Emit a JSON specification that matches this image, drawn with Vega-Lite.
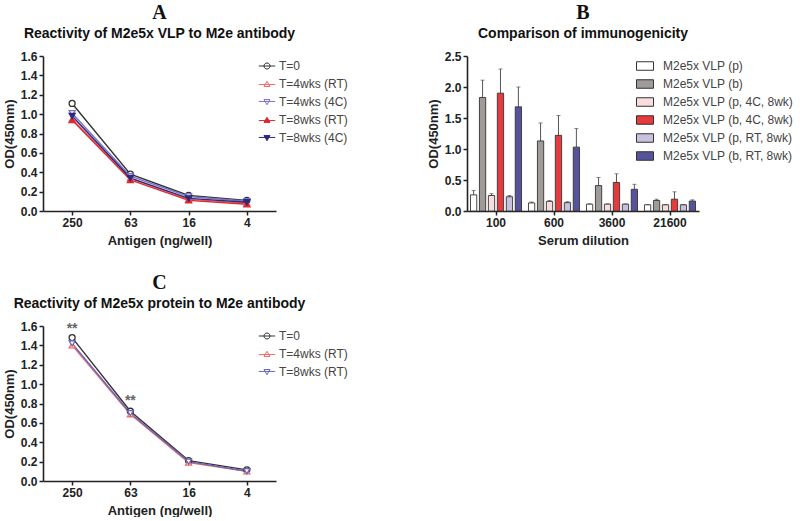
{
  "$schema": "https://vega.github.io/schema/vega-lite/v6.json",
  "background": "white",
  "padding": {"left": 3, "top": 3, "right": 0, "bottom": 0},
  "config": {
    "view": {"stroke": null},
    "font": "Liberation Sans",
    "axis": {"grid": false, "labelFont": "Liberation Sans", "labelFontWeight": "bold", "labelFontSize": 12, "labelColor": "#222", "titleFont": "Liberation Sans", "titleFontWeight": "bold", "titleFontSize": 13, "titleColor": "#222", "domainColor": "#222", "domainWidth": 1.6, "tickColor": "#222", "tickWidth": 1.5, "tickSize": 4, "labelPadding": 2},
    "axisY": {"titlePadding": 4},
    "axisX": {"titlePadding": 6, "labelAngle": 0},
    "title": {"font": "Liberation Serif", "fontSize": 20, "fontWeight": "bold", "color": "#111", "anchor": "middle", "subtitleFont": "Liberation Sans", "subtitleFontSize": 14, "subtitleFontWeight": "bold", "subtitleColor": "#111", "subtitlePadding": 4, "offset": 9},
    "legend": {"labelFont": "Liberation Sans", "labelFontSize": 12, "labelColor": "#444", "padding": 0, "rowPadding": 6}
  },
  "datasets": {
    "a": [
      {"s": "T=0", "x": "250", "y": 1.11}, {"s": "T=0", "x": "63", "y": 0.38}, {"s": "T=0", "x": "16", "y": 0.16}, {"s": "T=0", "x": "4", "y": 0.11},
      {"s": "T=4wks (RT)", "x": "250", "y": 0.95}, {"s": "T=4wks (RT)", "x": "63", "y": 0.34}, {"s": "T=4wks (RT)", "x": "16", "y": 0.12}, {"s": "T=4wks (RT)", "x": "4", "y": 0.08},
      {"s": "T=4wks (4C)", "x": "250", "y": 1.01}, {"s": "T=4wks (4C)", "x": "63", "y": 0.36}, {"s": "T=4wks (4C)", "x": "16", "y": 0.15}, {"s": "T=4wks (4C)", "x": "4", "y": 0.10},
      {"s": "T=8wks (RT)", "x": "250", "y": 0.94}, {"s": "T=8wks (RT)", "x": "63", "y": 0.32}, {"s": "T=8wks (RT)", "x": "16", "y": 0.11}, {"s": "T=8wks (RT)", "x": "4", "y": 0.07},
      {"s": "T=8wks (4C)", "x": "250", "y": 0.98}, {"s": "T=8wks (4C)", "x": "63", "y": 0.34}, {"s": "T=8wks (4C)", "x": "16", "y": 0.13}, {"s": "T=8wks (4C)", "x": "4", "y": 0.09}
    ],
    "c": [
      {"s": "T=0", "x": "250", "y": 1.48}, {"s": "T=0", "x": "63", "y": 0.72}, {"s": "T=0", "x": "16", "y": 0.21}, {"s": "T=0", "x": "4", "y": 0.115},
      {"s": "T=4wks (RT)", "x": "250", "y": 1.40}, {"s": "T=4wks (RT)", "x": "63", "y": 0.69}, {"s": "T=4wks (RT)", "x": "16", "y": 0.19}, {"s": "T=4wks (RT)", "x": "4", "y": 0.10},
      {"s": "T=8wks (RT)", "x": "250", "y": 1.42}, {"s": "T=8wks (RT)", "x": "63", "y": 0.70}, {"s": "T=8wks (RT)", "x": "16", "y": 0.20}, {"s": "T=8wks (RT)", "x": "4", "y": 0.10}
    ],
    "stars": [
      {"x": "250", "y": 1.57, "t": "**"},
      {"x": "63", "y": 0.83, "t": "**"}
    ],
    "b": [
      {"d": "100", "g": "M2e5x VLP (p)", "v": 0.26, "e": 0.33},
      {"d": "100", "g": "M2e5x VLP (b)", "v": 1.83, "e": 2.11},
      {"d": "100", "g": "M2e5x VLP (p, 4C, 8wk)", "v": 0.25, "e": 0.28},
      {"d": "100", "g": "M2e5x VLP (b, 4C, 8wk)", "v": 1.90, "e": 2.29},
      {"d": "100", "g": "M2e5x VLP (p, RT, 8wk)", "v": 0.23, "e": 0.25},
      {"d": "100", "g": "M2e5x VLP (b, RT, 8wk)", "v": 1.68, "e": 2.00},
      {"d": "600", "g": "M2e5x VLP (p)", "v": 0.13, "e": 0.145},
      {"d": "600", "g": "M2e5x VLP (b)", "v": 1.13, "e": 1.42},
      {"d": "600", "g": "M2e5x VLP (p, 4C, 8wk)", "v": 0.155, "e": 0.17},
      {"d": "600", "g": "M2e5x VLP (b, 4C, 8wk)", "v": 1.22, "e": 1.54},
      {"d": "600", "g": "M2e5x VLP (p, RT, 8wk)", "v": 0.135, "e": 0.15},
      {"d": "600", "g": "M2e5x VLP (b, RT, 8wk)", "v": 1.03, "e": 1.33},
      {"d": "3600", "g": "M2e5x VLP (p)", "v": 0.11, "e": 0.115},
      {"d": "3600", "g": "M2e5x VLP (b)", "v": 0.41, "e": 0.54},
      {"d": "3600", "g": "M2e5x VLP (p, 4C, 8wk)", "v": 0.11, "e": 0.115},
      {"d": "3600", "g": "M2e5x VLP (b, 4C, 8wk)", "v": 0.46, "e": 0.60},
      {"d": "3600", "g": "M2e5x VLP (p, RT, 8wk)", "v": 0.11, "e": 0.115},
      {"d": "3600", "g": "M2e5x VLP (b, RT, 8wk)", "v": 0.35, "e": 0.43},
      {"d": "21600", "g": "M2e5x VLP (p)", "v": 0.10, "e": 0.105},
      {"d": "21600", "g": "M2e5x VLP (b)", "v": 0.17, "e": 0.19},
      {"d": "21600", "g": "M2e5x VLP (p, 4C, 8wk)", "v": 0.10, "e": 0.105},
      {"d": "21600", "g": "M2e5x VLP (b, 4C, 8wk)", "v": 0.19, "e": 0.31},
      {"d": "21600", "g": "M2e5x VLP (p, RT, 8wk)", "v": 0.10, "e": 0.105},
      {"d": "21600", "g": "M2e5x VLP (b, RT, 8wk)", "v": 0.16, "e": 0.18}
    ]
  },
  "vconcat": [
    {
      "hconcat": [
        {
          "title": {"text": "A", "subtitle": "Reactivity of M2e5x VLP to M2e antibody"},
          "width": 233, "height": 155,
          "data": {"name": "a"},
          "encoding": {
            "x": {"field": "x", "type": "ordinal", "sort": ["250", "63", "16", "4"], "scale": {"type": "point", "padding": 0.5}, "axis": {"title": "Antigen  (ng/well)"}},
            "y": {"field": "y", "type": "quantitative", "scale": {"domain": [0, 1.6]}, "axis": {"values": [0, 0.2, 0.4, 0.6, 0.8, 1.0, 1.2, 1.4, 1.6], "format": ".1f", "title": "OD(450nm)"}}
          },
          "layer": [
            {"mark": {"type": "line", "strokeWidth": 1.4},
             "encoding": {"stroke": {"field": "s", "type": "nominal", "scale": {"domain": ["T=0", "T=4wks (RT)", "T=4wks (4C)", "T=8wks (RT)", "T=8wks (4C)"], "range": ["#333333", "#f06a6a", "#7a74c2", "#e0282d", "#2e2a80"]}, "legend": null}}},
            {"mark": {"type": "point", "filled": true, "size": 36, "strokeWidth": 1.3, "opacity": 1},
             "encoding": {
               "stroke": {"field": "s", "type": "nominal", "scale": {"domain": ["T=0", "T=4wks (RT)", "T=4wks (4C)", "T=8wks (RT)", "T=8wks (4C)"], "range": ["#333333", "#f06a6a", "#7a74c2", "#e0282d", "#2e2a80"]}, "legend": null},
               "fill": {"field": "s", "type": "nominal", "scale": {"domain": ["T=0", "T=4wks (RT)", "T=4wks (4C)", "T=8wks (RT)", "T=8wks (4C)"], "range": ["#ffffff", "#ffffff", "#ffffff", "#e0282d", "#2e2a80"]}, "legend": null},
               "shape": {"field": "s", "type": "nominal", "scale": {"domain": ["T=0", "T=4wks (RT)", "T=4wks (4C)", "T=8wks (RT)", "T=8wks (4C)"], "range": ["circle", "triangle-up", "triangle-down", "triangle-up", "triangle-down"]}, "legend": null}
             }},
            {"transform": [{"filter": "false"}],
             "mark": {"type": "point", "filled": true, "opacity": 1},
             "encoding": {
               "stroke": {"field": "s", "type": "nominal", "title": null, "scale": {"domain": ["T=0", "T=4wks (RT)", "T=4wks (4C)", "T=8wks (RT)", "T=8wks (4C)"], "range": ["#333333", "#f06a6a", "#7a74c2", "#e0282d", "#2e2a80"]}},
               "fill": {"field": "s", "type": "nominal", "title": null, "scale": {"domain": ["T=0", "T=4wks (RT)", "T=4wks (4C)", "T=8wks (RT)", "T=8wks (4C)"], "range": ["transparent", "transparent", "transparent", "#e0282d", "#2e2a80"]}},
               "shape": {"field": "s", "type": "nominal", "title": null, "scale": {"domain": ["T=0", "T=4wks (RT)", "T=4wks (4C)", "T=8wks (RT)", "T=8wks (4C)"], "range": ["M-1.5,0H1.5M-0.55,0A0.55,0.55,0,1,1,0.55,0A0.55,0.55,0,1,1,-0.55,0Z", "M-1.5,0.1H1.5M0,-0.5L0.55,0.45L-0.55,0.45Z", "M-1.5,-0.1H1.5M0,0.5L0.55,-0.45L-0.55,-0.45Z", "M-1.5,0.1H1.5M0,-0.5L0.55,0.45L-0.55,0.45Z", "M-1.5,-0.1H1.5M0,0.5L0.55,-0.45L-0.55,-0.45Z"]},
                 "legend": {"orient": "none", "legendX": 218, "legendY": 4, "symbolSize": 120, "symbolStrokeWidth": 1, "labelOffset": 6}}
             }}
          ],
          "resolve": {"scale": {"stroke": "independent", "fill": "independent", "shape": "independent"}}
        },
        {
          "title": {"text": "B", "subtitle": "Comparison of immunogenicity"},
          "width": 232, "height": 155,
          "data": {"name": "b"},
          "encoding": {
            "x": {"field": "d", "type": "ordinal", "sort": ["100", "600", "3600", "21600"], "scale": {"paddingInner": 0.12, "paddingOuter": 0.06}, "axis": {"title": "Serum dilution"}},
            "xOffset": {"field": "g", "type": "nominal", "sort": ["M2e5x VLP (p)", "M2e5x VLP (b)", "M2e5x VLP (p, 4C, 8wk)", "M2e5x VLP (b, 4C, 8wk)", "M2e5x VLP (p, RT, 8wk)", "M2e5x VLP (b, RT, 8wk)"], "scale": {"paddingInner": 0.3, "paddingOuter": 0}},
            "y": {"field": "v", "type": "quantitative", "scale": {"domain": [0, 2.5]}, "axis": {"values": [0, 0.5, 1.0, 1.5, 2.0, 2.5], "format": ".1f", "title": "OD(450nm)"}}
          },
          "layer": [
            {"mark": {"type": "rule", "color": "#555", "strokeWidth": 1},
             "encoding": {"y2": {"field": "e"}}},
            {"mark": {"type": "tick", "color": "#555", "thickness": 1, "size": 4},
             "encoding": {"y": {"field": "e", "type": "quantitative"}}},
            {"mark": {"type": "bar", "stroke": "#333", "strokeWidth": 0.9},
             "encoding": {
               "fill": {"field": "g", "type": "nominal", "title": null, "scale": {"domain": ["M2e5x VLP (p)", "M2e5x VLP (b)", "M2e5x VLP (p, 4C, 8wk)", "M2e5x VLP (b, 4C, 8wk)", "M2e5x VLP (p, RT, 8wk)", "M2e5x VLP (b, RT, 8wk)"], "range": ["#ffffff", "#a09a98", "#f9dcdc", "#e63a3d", "#c8c0dc", "#57529c"]},
                 "legend": {"orient": "none", "legendX": 169, "legendY": 1, "symbolType": "M-1,-0.5H1V0.5H-1Z", "symbolSize": 289, "symbolStrokeColor": "#333", "symbolStrokeWidth": 1, "labelOffset": 9, "rowPadding": 2}}
             }}
          ]
        }
      ],
      "spacing": 79,
      "resolve": {"scale": {"stroke": "independent", "fill": "independent", "shape": "independent"}, "legend": {"stroke": "independent", "fill": "independent", "shape": "independent"}}
    },
    {
      "title": {"text": "C", "subtitle": "Reactivity of M2e5x protein to M2e antibody"},
      "width": 233, "height": 155,
      "data": {"name": "c"},
      "encoding": {
        "x": {"field": "x", "type": "ordinal", "sort": ["250", "63", "16", "4"], "scale": {"type": "point", "padding": 0.5}, "axis": {"title": "Antigen  (ng/well)"}},
        "y": {"field": "y", "type": "quantitative", "scale": {"domain": [0, 1.6]}, "axis": {"values": [0, 0.2, 0.4, 0.6, 0.8, 1.0, 1.2, 1.4, 1.6], "format": ".1f", "title": "OD(450nm)"}}
      },
      "layer": [
        {"mark": {"type": "line", "strokeWidth": 1.4},
         "encoding": {"stroke": {"field": "s", "type": "nominal", "scale": {"domain": ["T=0", "T=4wks (RT)", "T=8wks (RT)"], "range": ["#333333", "#f06a6a", "#6a66b8"]}, "legend": null}}},
        {"mark": {"type": "point", "filled": true, "size": 36, "strokeWidth": 1.3, "opacity": 1},
         "encoding": {
           "stroke": {"field": "s", "type": "nominal", "scale": {"domain": ["T=0", "T=4wks (RT)", "T=8wks (RT)"], "range": ["#333333", "#f06a6a", "#6a66b8"]}, "legend": null},
           "fill": {"field": "s", "type": "nominal", "scale": {"domain": ["T=0", "T=4wks (RT)", "T=8wks (RT)"], "range": ["#ffffff", "#ffffff", "#ffffff"]}, "legend": null},
           "shape": {"field": "s", "type": "nominal", "scale": {"domain": ["T=0", "T=4wks (RT)", "T=8wks (RT)"], "range": ["circle", "triangle-up", "triangle-down"]}, "legend": null}
         }},
        {"data": {"name": "stars"},
         "mark": {"type": "text", "fontSize": 14, "fontWeight": "bold", "color": "#666", "baseline": "middle"},
         "encoding": {"text": {"field": "t"}}},
        {"transform": [{"filter": "false"}],
         "mark": {"type": "point", "filled": true, "opacity": 1},
         "encoding": {
           "stroke": {"field": "s", "type": "nominal", "title": null, "scale": {"domain": ["T=0", "T=4wks (RT)", "T=8wks (RT)"], "range": ["#333333", "#f06a6a", "#6a66b8"]}},
           "fill": {"field": "s", "type": "nominal", "title": null, "scale": {"domain": ["T=0", "T=4wks (RT)", "T=8wks (RT)"], "range": ["transparent", "transparent", "transparent"]}},
           "shape": {"field": "s", "type": "nominal", "title": null, "scale": {"domain": ["T=0", "T=4wks (RT)", "T=8wks (RT)"], "range": ["M-1.5,0H1.5M-0.55,0A0.55,0.55,0,1,1,0.55,0A0.55,0.55,0,1,1,-0.55,0Z", "M-1.5,0.1H1.5M0,-0.5L0.55,0.45L-0.55,0.45Z", "M-1.5,-0.1H1.5M0,0.5L0.55,-0.45L-0.55,-0.45Z"]},
             "legend": {"orient": "none", "legendX": 218, "legendY": 4, "symbolSize": 120, "symbolStrokeWidth": 1, "labelOffset": 6}}
         }}
      ],
      "resolve": {"scale": {"stroke": "independent", "fill": "independent", "shape": "independent"}}
    }
  ],
  "spacing": 26,
  "resolve": {"scale": {"stroke": "independent", "fill": "independent", "shape": "independent"}, "legend": {"stroke": "independent", "fill": "independent", "shape": "independent"}}
}
